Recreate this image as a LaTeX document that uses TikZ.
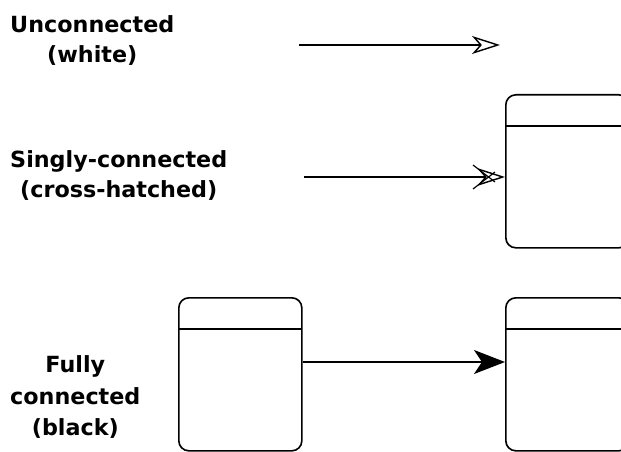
\documentclass[tikz,border=0pt]{standalone}
\usepackage{fontspec}
\setmainfont{DejaVu Sans}
\usepackage{tikz}
\usetikzlibrary{%
  positioning
 ,arrows.meta
 ,calc
}
\tikzstyle{lbl}=[align=center,inner sep=0pt,anchor=north west,font=\fontsize{19}{25.5}\selectfont\bfseries]
\tikzstyle{stbox}=[draw,line width=1.4pt,rounded corners=0.3cm,inner sep=0pt,
  minimum width=3.69cm,minimum height=4.59cm,anchor=north west,
  path picture={\draw[line width=1.4pt] ([yshift=-0.93cm]path picture bounding box.north west)
    -- ([yshift=-0.93cm]path picture bounding box.north east);}]
\tikzstyle{tr}=[line width=1.3pt]
\tikzset{
  whitetip/.style={-{Stealth[open,length=0.84cm,width=0.54cm,inset=0.24cm,line width=1.2pt]}},
  blacktip/.style={-{Stealth[length=0.93cm,width=0.72cm,inset=0.24cm]}},
}

\begin{document}
\begin{tikzpicture}[x=0.03cm,y=-0.03cm]
      \useasboundingbox (0,0) rectangle (621,452);
      \clip (0,0) rectangle (621,452);
      % labels on the left
      \node[lbl] (l_u) at (10,15) {Unconnected\\(white)};
      \node[lbl] (l_s) at (10,150) {Singly-connected\\(cross-hatched)};
      \node[lbl,font=\fontsize{19}{27.2}\selectfont\bfseries] (l_f) at (10,355) {Fully\\connected\\(black)};
      % state boxes
      \node[stbox] (b_s) at (505,94) {};
      \node[stbox] (b_l) at (178,297) {};
      \node[stbox] (b_r) at (505,297) {};
      % unconnected
      \coordinate (u_0) at (299,45);
      \coordinate (u_1) at (500,45);
      \draw[tr,whitetip] (u_0) -- (u_1);
      % singly-connected
      \coordinate (s_0) at (304,177);
      \draw[tr,whitetip] (s_0) -- (s_0 -| b_s.west);
      \draw[line width=1pt] ($(s_0 -| b_s.west)+(-32,-12)$) -- ($(s_0 -| b_s.west)+(-10,5)$)
        ($(s_0 -| b_s.west)+(-32,12)$) -- ($(s_0 -| b_s.west)+(-10,-5)$);
      % fully connected
      \coordinate (f_0) at (b_l.east |- 0,362);
      \draw[tr,blacktip] (f_0) -- (f_0 -| b_r.west);
    \end{tikzpicture}
\end{document}
